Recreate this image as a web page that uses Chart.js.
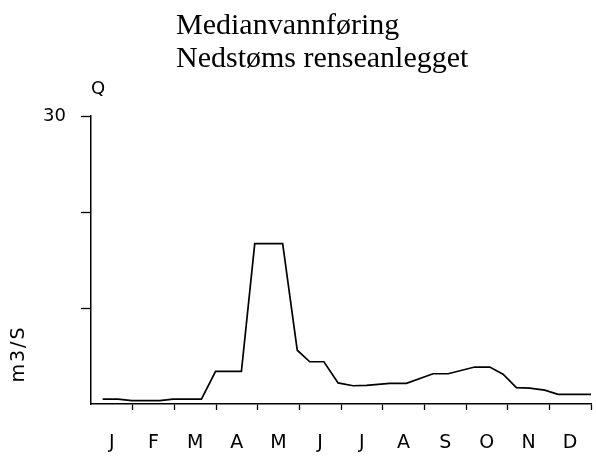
<!DOCTYPE html>
<html>
<head>
<meta charset="utf-8">
<script src="https://cdn.jsdelivr.net/npm/chart.js@4"></script>
<style>
  body { margin: 0; background: #fff; }
  #wrap { width: 596px; height: 456px; }
</style>
</head>
<body>
<div id="wrap"><canvas id="flowChart" width="596" height="456"></canvas></div>
<script>
// median discharge (x = position in months from 1 Jan)
const monthLabels = ['J', 'F', 'M', 'A', 'M', 'J', 'J', 'A', 'S', 'O', 'N', 'D'];
const monthPos = [0.28, 0.65, 0.98, 1.65, 1.97, 2.65, 2.99, 3.61, 3.93, 4.6, 4.95, 5.25, 5.59, 5.93,
                  6.29, 6.61, 7.17, 7.57, 8.21, 8.57, 9.21, 9.57, 9.89, 10.21, 10.53, 10.89, 11.21, 12.0];
const flow = [0.5, 0.5, 0.35, 0.35, 0.5, 0.5, 3.4, 3.4, 16.7, 16.7, 5.6, 4.4, 4.4, 2.2,
              1.9, 1.95, 2.15, 2.15, 3.15, 3.15, 3.85, 3.85, 3.1, 1.7, 1.65, 1.45, 1.0, 1.0];
const yTicks = [0, 10, 20, 30];
const titleLines = ['Medianvannføring', 'Nedstøms renseanlegget'];

const points = monthPos.map((m, i) => ({ x: m, y: flow[i] }));
const sansFont = '"DejaVu Sans", sans-serif';

// titles, "Q" and the unit label
const textPlugin = {
    id: 'texts',
    afterDraw(chart) {
        const ctx = chart.ctx;
        ctx.save();
        ctx.fillStyle = '#000';
        ctx.font = '30px "Liberation Serif", "Times New Roman", serif';
        ctx.textBaseline = 'alphabetic';
        ctx.textAlign = 'left';
        ctx.fillText(titleLines[0], 176, 33.5);
        ctx.fillText(titleLines[1], 176, 67);

        ctx.font = '18px ' + sansFont;
        ctx.fillText('Q', 91, 94);

        ctx.translate(24, 354);
        ctx.rotate(-Math.PI / 2);
        ctx.textAlign = 'center';
        ctx.font = '19px ' + sansFont;
        ctx.letterSpacing = '2px';
        ctx.fillText('m3/S', 0, 0);
        ctx.restore();
    }
};

const ctx = document.getElementById('flowChart').getContext('2d');
const flowChart = new Chart(ctx, {
    type: 'line',
    data: {
        datasets: [{
            data: points,
            borderColor: '#000',
            borderWidth: 1.7,
            pointRadius: 0,
            tension: 0,
            fill: false
        }]
    },
    options: {
        responsive: false,
        animation: false,
        layout: { padding: { top: 116, right: 5, left: 0, bottom: 0 } },
        plugins: {
            legend: { display: false },
            tooltip: { enabled: false }
        },
        scales: {
            x: {
                type: 'linear',
                min: 0,
                max: 12,
                afterBuildTicks: scale => {
                    const t = [];
                    for (let i = 0; i <= 12; i++) {
                        t.push({ value: i });
                        if (i < 12) t.push({ value: i + 0.5 });
                    }
                    scale.ticks = t;
                },
                afterFit: scale => {
                    scale.height = 52;
                    scale.paddingLeft = 0;
                    scale.paddingRight = 0;
                },
                border: { color: '#000', width: 1.5 },
                grid: {
                    drawOnChartArea: false,
                    tickLength: 6,
                    tickWidth: 1.3,
                    tickColor: c => (Number.isInteger(c.tick.value) && c.tick.value > 0) ? '#000' : 'rgba(0,0,0,0)'
                },
                ticks: {
                    autoSkip: false,
                    maxRotation: 0,
                    padding: 22,
                    color: '#000',
                    font: { family: sansFont, size: 19 },
                    callback: v => Number.isInteger(v) ? '' : monthLabels[Math.floor(v)]
                }
            },
            y: {
                min: 0,
                max: 30,
                afterBuildTicks: scale => { scale.ticks = yTicks.map(v => ({ value: v })); },
                afterFit: scale => {
                    scale.width = 91;
                    scale.paddingTop = 0;
                    scale.paddingBottom = 0;
                },
                border: { color: '#000', width: 1.5 },
                grid: {
                    drawOnChartArea: false,
                    tickLength: 10,
                    tickWidth: 1.3,
                    tickColor: c => c.tick.value > 0 ? '#000' : 'rgba(0,0,0,0)'
                },
                ticks: {
                    padding: 15,
                    color: '#000',
                    font: { family: sansFont, size: 18 },
                    callback: v => v === 30 ? '30' : ''
                }
            }
        }
    },
    plugins: [textPlugin]
});
</script>
</body>
</html>
